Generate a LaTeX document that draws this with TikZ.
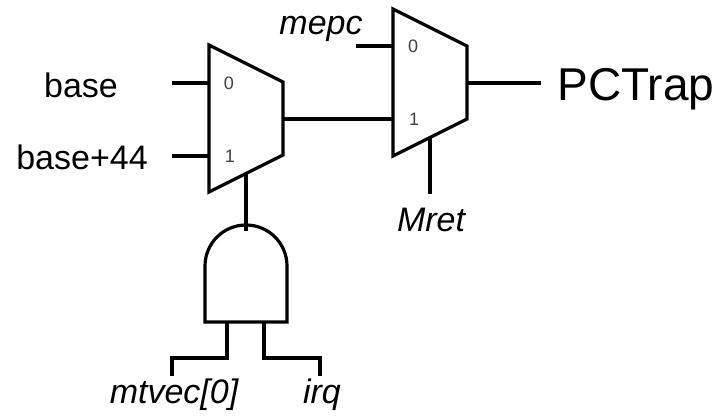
\documentclass[tikz,border=0pt]{standalone}
\usepackage{fontspec}
\setmainfont{Liberation Sans}
\begin{document}
\begin{tikzpicture}[x=1pt,y=-1pt,line width=3.2pt,
    lbl/.style={inner sep=0pt, font=\fontsize{34}{38}\selectfont},
    inlbl/.style={inner sep=0pt, text=black!75, font=\fontsize{18}{20}\selectfont}]
\useasboundingbox (0,0) rectangle (720,419);

% muxes
\draw[line join=miter] (209,45) -- (283,82) -- (283,155) -- (209,192) -- cycle;
\draw[line join=miter] (393,9) -- (467,46) -- (467,119) -- (393,156) -- cycle;
\node (inzero) at (229,83) [inlbl] {0};
\node (inone) at (230,156) [inlbl] {1};
\node (outzero) at (413,46) [inlbl] {0};
\node (outone) at (414,119) [inlbl] {1};

% and gate
\draw (205,322) -- (205,266) arc[start angle=180, end angle=0, x radius=41, y radius=-41] -- (287,322) -- cycle;

% labels
\node (base) at (81,85) [lbl] {base};
\node (basefour) at (82,157) [lbl] {base+44};
\node (mepc) at (321,29) [lbl] {\itshape mepc};
\node (pctrap) at (636,89) [inner sep=0pt, font=\fontsize{46}{50}\selectfont] {PCTrap};
\node (mret) at (431,220) [lbl] {\itshape Mret};
\node (mtvec) at (174,395) [lbl] {\itshape mtvec[0]};
\node (irq) at (322,395) [lbl] {\itshape irq};

% points on the shapes
\coordinate (a0) at (172,83);
\coordinate (a1) at (209,83);
\coordinate (b0) at (172,156);
\coordinate (b1) at (209,156);
\coordinate (c0) at (356,46);
\coordinate (c1) at (393,46);
\coordinate (d0) at (283,119);
\coordinate (d1) at (393,119);
\coordinate (e0) at (467,83);
\coordinate (e1) at (541,83);
\coordinate (f0) at (430,138);
\coordinate (f1) at (430,194);
\coordinate (g0) at (246,174);
\coordinate (g1) at (246,231);
\coordinate (h0) at (227,322);
\coordinate (h1) at (227,358);
\coordinate (h2) at (172,358);
\coordinate (h3) at (172,376);
\coordinate (i0) at (264,322);
\coordinate (i1) at (264,358);
\coordinate (i2) at (320,358);
\coordinate (i3) at (320,376);

\draw (a0) -- (a1);
\draw (b0) -- (b1);
\draw (c0) -- (c1);
\draw (d0) -- (d1);
\draw (e0) -- (e1);
\draw (f0) -- (f1);
\draw (g0) -- (g1);
\draw (h0) -- (h1) -- (h2) -- (h3);
\draw (i0) -- (i1) -- (i2) -- (i3);
\end{tikzpicture}
\end{document}
